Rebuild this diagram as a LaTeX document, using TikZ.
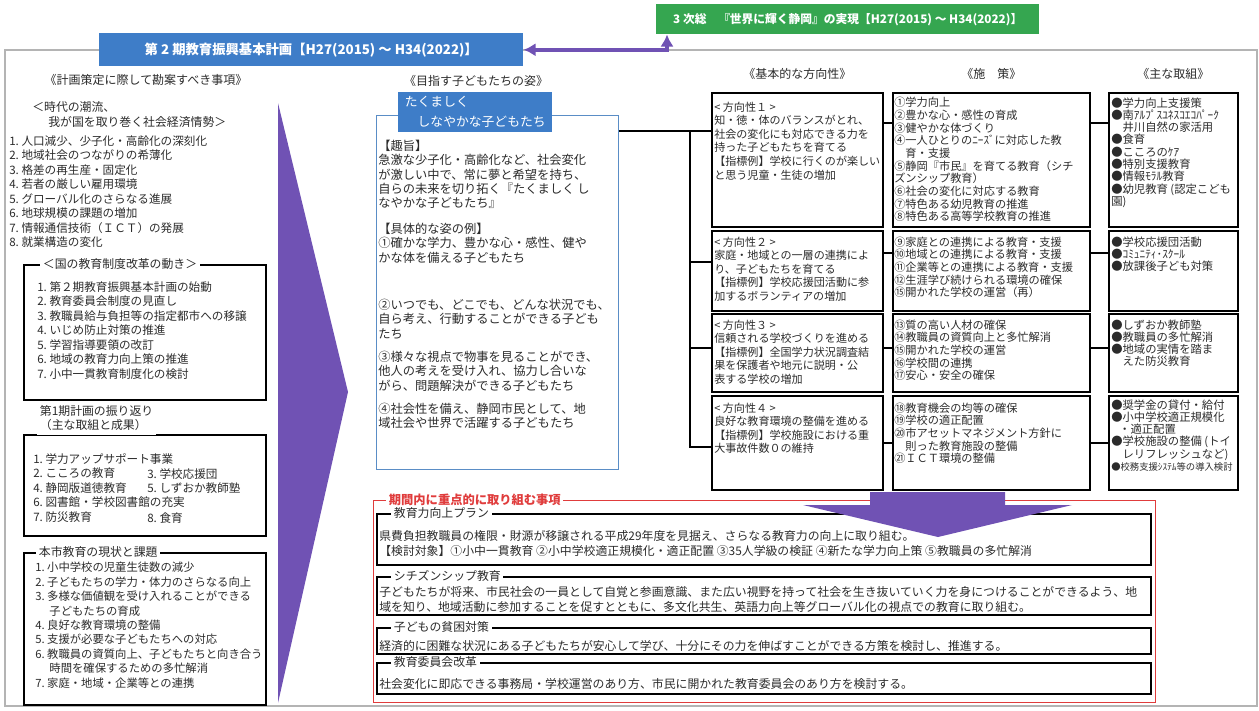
\documentclass[tikz,border=0pt]{standalone}
\usepackage{fontspec}
\setmainfont{Noto Sans CJK JP}
\frenchspacing
\usetikzlibrary{arrows.meta,positioning,calc}
\definecolor{planblue}{HTML}{3E7DC8}
\definecolor{goalblue}{HTML}{5A8DC6}
\definecolor{sogogreen}{HTML}{35A650}
\definecolor{shiftpurple}{HTML}{7052B4}
\definecolor{focusred}{HTML}{E03C3C}
\definecolor{ink}{HTML}{2B2B2B}
\definecolor{framegray}{HTML}{B4B4B4}
\tikzset{
  txt/.style={inner sep=0pt, align=left, anchor=north west, text=ink},
  listtext/.style={txt, font=\fontsize{8.7}{10.9}\selectfont},
  goaltext/.style={txt, font=\fontsize{9.2}{10.65}\selectfont},
  dirtext/.style={txt, font=\fontsize{8.3}{10.2}\selectfont},
  meastext/.style={txt, font=\fontsize{8.4}{9.5}\selectfont},
  efftext/.style={txt, font=\fontsize{8.5}{9.2}\selectfont},
  plantext/.style={txt, font=\fontsize{8.9}{11.2}\selectfont},
  colhead/.style={inner sep=0pt, text=ink, font=\fontsize{9}{11}\selectfont},
  listbox/.style={draw=black, line width=1.2pt, inner sep=0pt, anchor=north west},
  boxtitle/.style={fill=white, inner xsep=2pt, inner ysep=1pt, anchor=west, text=ink,
    font=\fontsize{8.9}{10.9}\selectfont},
  banner/.style={inner sep=0pt, anchor=north west, text=white,
    font=\bfseries\fontsize{10}{12}\selectfont},
  link/.style={draw=black, line width=1.1pt},
  elbow/.style={draw=shiftpurple, line width=2.8pt,
    {Latex[length=9pt,width=10pt]}-{Latex[length=9pt,width=10pt]}},
  bigarrow/.style={fill=shiftpurple}
}
\begin{document}
\begin{tikzpicture}[x=0.75pt,y=-0.75pt]
\useasboundingbox (0,0) rectangle (1259,710);
% outer frame
\draw[framegray, line width=0.8pt] (5,50) rectangle (1257,706);

% left column
\node[colhead] (leftcap) at (146,80) {《計画策定に際して勘案すべき事項》};
\node[txt, font=\fontsize{8.9}{11.25}\selectfont] (trendcap) at (32,101)
  {＜時代の潮流、\\\hspace*{1.35em}我が国を取り巻く社会経済情勢＞};
\node[listtext] (trendlist) at (9,135) {1. 人口減少、少子化・高齢化の深刻化\\2. 地域社会のつながりの希薄化\\3. 格差の再生産・固定化\\4. 若者の厳しい雇用環境\\5. グローバル化のさらなる進展\\6. 地球規模の課題の増加\\7. 情報通信技術（ＩＣＴ）の発展\\8. 就業構造の変化};

\node[listbox, minimum width=181.5pt, minimum height=101.25pt] (reformbox) at (23,264) {};
\node[boxtitle] (reformcap) at ($(reformbox.north west)+(17,0)$) {＜国の教育制度改革の動き＞};
\node[listtext] (reformlist) at ($(reformbox.north west)+(14,17)$) {1. 第２期教育振興基本計画の始動\\2. 教育委員会制度の見直し\\3. 教職員給与負担等の指定都市への移譲\\4. いじめ防止対策の推進\\5. 学習指導要領の改訂\\6. 地域の教育力向上策の推進\\7. 小中一貫教育制度化の検討};

\node[listbox, minimum width=181.5pt, minimum height=75.75pt] (reviewbox) at (23,434) {};
\node[boxtitle, anchor=north west, inner ysep=3pt, align=left] (reviewcap) at ($(reviewbox.north west)+(14,-33)$) {第1期計画の振り返り\\（主な取組と成果）};
\node[listtext] (reviewlist) at ($(reviewbox.north west)+(10,19)$) {1. 学力アップサポート事業\\2. こころの教育\\4. 静岡版道徳教育\\6. 図書館・学校図書館の充実\\7. 防災教育};
\node[listtext] (reviewlistb) at ($(reviewbox.north west)+(124,34)$) {3. 学校応援団\\5. しずおか教師塾};
\node[listtext] (reviewlistc) at ($(reviewbox.north west)+(124,78)$) {8. 食育};

\node[listbox, minimum width=181.5pt, minimum height=114pt] (issuebox) at (23,552) {};
\node[boxtitle] (issuecap) at ($(issuebox.north west)+(13,0)$) {本市教育の現状と課題};
\node[listtext, font=\fontsize{8.5}{10.8}\selectfont] (issuelist) at ($(issuebox.north west)+(12,10)$) {1. 小中学校の児童生徒数の減少\\2. 子どもたちの学力・体力のさらなる向上\\3. 多様な価値観を受け入れることができる\\\hspace*{1.25em}子どもたちの育成\\4. 良好な教育環境の整備\\5. 支援が必要な子どもたちへの対応\\6. 教職員の資質向上、子どもたちと向き合う\\\hspace*{1.25em}時間を確保するための多忙解消\\7. 家庭・地域・企業等との連携};

% big purple arrow
\fill[bigarrow] (278,103) -- (348,392) -- (278,703) -- cycle;

% goal column
\node[colhead] (goalcap) at (476,81) {《目指す子どもたちの姿》};
\node[draw=goalblue, line width=1.1pt, fill=white, inner sep=0pt, anchor=north west,
  minimum width=181.5pt, minimum height=265.5pt] (goalframe) at (376,115) {};
\node[fill=planblue, inner sep=0pt, anchor=north west, minimum width=115.5pt, minimum height=30pt,
  align=left, text=white, font=\fontsize{9.6}{15}\selectfont] (goaltitle) at (398,92)
  {たくましく\\\hspace*{1em}しなやかな子どもたち};
\node[goaltext] (aim) at ($(goalframe.north west)+(2,25)$) {【趣旨】\\急激な少子化・高齢化など、社会変化\\が激しい中で、常に夢と希望を持ち、\\自らの未来を切り拓く『たくましく し\\なやかな子どもたち』};
\node[goaltext] (imagea) at ($(goalframe.north west)+(2,108)$) {【具体的な姿の例】\\①確かな学力、豊かな心・感性、健や\\かな体を備える子どもたち};
\node[goaltext] (imageb) at ($(goalframe.north west)+(2,184)$) {②いつでも、どこでも、どんな状況でも、\\自ら考え、行動することができる子ども\\たち};
\node[goaltext] (imagec) at ($(goalframe.north west)+(2,236)$) {③様々な視点で物事を見ることができ、\\他人の考えを受け入れ、協力し合いな\\がら、問題解決ができる子どもたち};
\node[goaltext] (imaged) at ($(goalframe.north west)+(2,288)$) {④社会性を備え、静岡市民として、地\\域社会や世界で活躍する子どもたち};

% direction / measure / effort boxes
\node[listbox, minimum width=128.25pt, minimum height=100.5pt] (d1) at (711,92) {};
\node[listbox, minimum width=128.25pt, minimum height=60pt] (d2) at (711,230) {};
\node[listbox, minimum width=128.25pt, minimum height=58.5pt] (d3) at (711,313) {};
\node[listbox, minimum width=128.25pt, minimum height=70.5pt] (d4) at (711,395) {};
\node[listbox, minimum width=147.75pt, minimum height=100.5pt] (m1) at (892,92) {};
\node[listbox, minimum width=147.75pt, minimum height=60pt] (m2) at (892,230) {};
\node[listbox, minimum width=147.75pt, minimum height=58.5pt] (m3) at (892,313) {};
\node[listbox, minimum width=147.75pt, minimum height=70.5pt] (m4) at (892,395) {};
\node[listbox, minimum width=96.75pt, minimum height=100.5pt] (e1) at (1108,92) {};
\node[listbox, minimum width=96.75pt, minimum height=60pt] (e2) at (1108,230) {};
\node[listbox, minimum width=96.75pt, minimum height=58.5pt] (e3) at (1108,313) {};
\node[listbox, minimum width=96.75pt, minimum height=70.5pt] (e4) at (1108,395) {};

\node[colhead, above=9pt of d1] (dircap) {《基本的な方向性》};
\node[colhead, above=9pt of m1] (meascap) {《施\quad 策》};
\node[colhead, above=9pt of e1] (effcap) {《主な取組》};

\node[dirtext] (dt1) at ($(d1.north west)+(3,9.5)$) {< 方向性１ >\\知・徳・体のバランスがとれ、\\社会の変化にも対応できる力を\\持った子どもたちを育てる\\【指標例】学校に行くのが楽しい\\と思う児童・生徒の増加};
\node[dirtext] (dt2) at ($(d2.north west)+(3,6.5)$) {< 方向性２ >\\家庭・地域との一層の連携によ\\り、子どもたちを育てる\\【指標例】学校応援団活動に参\\加するボランティアの増加};
\node[dirtext] (dt3) at ($(d3.north west)+(3,6.5)$) {< 方向性３ >\\信頼される学校づくりを進める\\【指標例】全国学力状況調査結\\果を保護者や地元に説明・公\\表する学校の増加};
\node[dirtext] (dt4) at ($(d4.north west)+(3,7.5)$) {< 方向性４ >\\良好な教育環境の整備を進める\\【指標例】学校施設における重\\大事故件数０の維持};

\node[meastext] (mt1) at ($(m1.north west)+(2,5)$) {①学力向上\\②豊かな心・感性の育成\\③健やかな体づくり\\④一人ひとりのﾆｰｽﾞに対応した教\\\hspace*{1em}育・支援\\⑤静岡『市民』を育てる教育（シチ\\ズンシップ教育）\\⑥社会の変化に対応する教育\\⑦特色ある幼児教育の推進\\⑧特色ある高等学校教育の推進};
\node[meastext] (mt2) at ($(m2.north west)+(2,6.4)$) {⑨家庭との連携による教育・支援\\⑩地域との連携による教育・支援\\⑪企業等との連携による教育・支援\\⑫生涯学び続けられる環境の確保\\⑮開かれた学校の運営（再）};
\node[meastext] (mt3) at ($(m3.north west)+(2,6.4)$) {⑬質の高い人材の確保\\⑭教職員の資質向上と多忙解消\\⑮開かれた学校の運営\\⑯学校間の連携\\⑰安心・安全の確保};
\node[meastext] (mt4) at ($(m4.north west)+(2,7.4)$) {⑱教育機会の均等の確保\\⑲学校の適正配置\\⑳市アセットマネジメント方針に\\\hspace*{1em}則った教育施設の整備\\㉑ＩＣＴ環境の整備};

\node[efftext] (et1) at ($(e1.north west)+(3,5.3)$) {●学力向上支援策\\●南ｱﾙﾌﾟｽﾕﾈｽｺｴｺﾊﾟｰｸ\\\hspace*{1em}井川自然の家活用\\●食育\\●こころのｹｱ\\●特別支援教育\\●情報ﾓﾗﾙ教育\\●幼児教育 (認定こども\\園)};
\node[efftext] (et2) at ($(e2.north west)+(3,6.3)$) {●学校応援団活動\\●ｺﾐｭﾆﾃｨ･ｽｸｰﾙ\\●放課後子ども対策};
\node[efftext] (et3) at ($(e3.north west)+(3,6.3)$) {●しずおか教師塾\\●教職員の多忙解消\\●地域の実情を踏ま\\\hspace*{1em}えた防災教育};
\node[efftext] (et4) at ($(e4.north west)+(3,4.3)$) {●奨学金の貸付・給付\\●小中学校適正規模化\\\hspace*{0.7em}・適正配置\\●学校施設の整備 (トイ\\\hspace*{1em}レリフレッシュなど)\\{\fontsize{7}{9.2}\selectfont ●校務支援ｼｽﾃﾑ等の導入検討}};

% tree connectors
\coordinate (fork) at (690,131);
\coordinate (fork2) at (690,262);
\coordinate (fork3) at (690,348);
\coordinate (fork4) at (690,447);
\draw[link] (fork -| goalframe.east) -- (fork -| d1.west);
\draw[link] (fork) -- (fork4) -- (fork4 -| d4.west);
\draw[link] (fork2) -- (fork2 -| d2.west);
\draw[link] (fork3) -- (fork3 -| d3.west);
\coordinate (row1) at (887,123);
\coordinate (row2) at (887,253);
\coordinate (row3) at (887,348);
\coordinate (row4) at (887,443);
\draw[link] (row1 -| d1.east) -- (row1 -| m1.west);
\draw[link] (row2 -| d2.east) -- (row2 -| m2.west);
\draw[link] (row3 -| d3.east) -- (row3 -| m3.west);
\draw[link] (row4 -| d4.east) -- (row4 -| m4.west);
\draw[link] (row1 -| m1.east) -- (row1 -| e1.west);
\draw[link] (row2 -| m2.east) -- (row2 -| e2.west);
\draw[link] (row3 -| m3.east) -- (row3 -| e3.west);
\draw[link] (row4 -| m4.east) -- (row4 -| e4.west);

% focus items
\node[draw=focusred, line width=0.9pt, inner sep=0pt, anchor=north west,
  minimum width=586.5pt, minimum height=151.5pt] (focusframe) at (373,500) {};
\node[boxtitle, text=focusred, font=\bfseries\fontsize{9.2}{11}\selectfont] (focuscap)
  at ($(focusframe.north west)+(13,0)$) {期間内に重点的に取り組む事項};
\node[listbox, minimum width=580.5pt, minimum height=38.25pt] (p1) at (376,513) {};
\node[listbox, minimum width=580.5pt, minimum height=28.5pt] (p2) at (376,576) {};
\node[listbox, minimum width=580.5pt, minimum height=19.5pt] (p3) at (376,627) {};
\node[listbox, minimum width=580.5pt, minimum height=23.25pt] (p4) at (376,662) {};
\node[boxtitle] (p1cap) at ($(p1.north west)+(15,0)$) {教育力向上プラン};
\node[boxtitle] (p2cap) at ($(p2.north west)+(15,0)$) {シチズンシップ教育};
\node[boxtitle] (p3cap) at ($(p3.north west)+(15,0)$) {子どもの貧困対策};
\node[boxtitle] (p4cap) at ($(p4.north west)+(15,0)$) {教育委員会改革};
\node[plantext] (p1text) at ($(p1.north west)+(3,17.2)$) {県費負担教職員の権限・財源が移譲される平成29年度を見据え、さらなる教育力の向上に取り組む。\\【検討対象】①小中一貫教育 ②小中学校適正規模化・適正配置 ③35人学級の検証 ④新たな学力向上策 ⑤教職員の多忙解消};
\node[plantext] (p2text) at ($(p2.north west)+(3,10.2)$) {子どもたちが将来、市民社会の一員として自覚と参画意識、また広い視野を持って社会を生き抜いていく力を身につけることができるよう、地\\域を知り、地域活動に参加することを促すとともに、多文化共生、英語力向上等グローバル化の視点での教育に取り組む。};
\node[plantext] (p3text) at ($(p3.north west)+(3,13.2)$) {経済的に困難な状況にある子どもたちが安心して学び、十分にその力を伸ばすことができる方策を検討し、推進する。};
\node[plantext] (p4text) at ($(p4.north west)+(3,16.2)$) {社会変化に即応できる事務局・学校運営のあり方、市民に開かれた教育委員会のあり方を検討する。};

% arrow down into focus items
\fill[bigarrow] (870,492) -- (1005,492) -- (1005,505) -- (1072,505) -- (938,537)
  -- (803,505) -- (870,505) -- cycle;

% banners
\node[banner, fill=planblue, minimum width=318pt, minimum height=24.75pt] (planbanner) at (99,33)
  {第 2 期教育振興基本計画【H27(2015) ～ H34(2022)】};
\node[banner, fill=sogogreen, minimum width=287.25pt, minimum height=22.5pt,
  font=\bfseries\fontsize{8.8}{11}\selectfont] (sogobanner) at (656,4)
  {3 次総　『世界に輝く静岡』の実現【H27(2015) ～ H34(2022)】};
\coordinate (gtip) at ($(sogobanner.south west)+(11,0)$);
\draw[elbow] (planbanner.east) -| (gtip);
\end{tikzpicture}
\end{document}
